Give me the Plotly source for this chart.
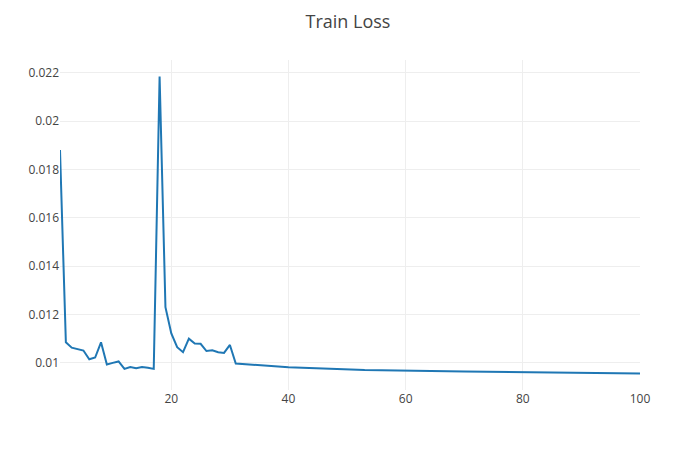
import plotly.graph_objects as go

epochs = list(range(1, 32)) + [40, 53, 70, 85, 100]
loss = [
    0.0188, 0.01085, 0.01063, 0.01057, 0.01051, 0.01015, 0.01022, 0.01085, 0.00993, 0.01000,
    0.01006, 0.00975, 0.00983, 0.00978, 0.00983, 0.00980, 0.00975, 0.02184, 0.01230, 0.01122,
    0.01065, 0.01044, 0.01100, 0.01080, 0.01079, 0.01049, 0.01052, 0.01044, 0.01041, 0.01074,
    0.00997, 0.00982, 0.00970, 0.00964, 0.00960, 0.00956,
]

fig = go.Figure(
    go.Scatter(x=epochs, y=loss, mode="lines",
               line=dict(color="#1f77b4", width=2))
)
fig.update_layout(
    template="none",
    width=700, height=450,
    title=dict(text="Train Loss", x=(348 - 8) / 700, xanchor="center",
               y=1 - 14 / 450, yanchor="middle", yref="container",
               font=dict(size=18, color="#444")),
    font=dict(family="Open Sans", size=12, color="#444"),
    margin=dict(l=52, r=68, t=52, b=68),
    paper_bgcolor="white", plot_bgcolor="white",
    showlegend=False,
    xaxis=dict(showgrid=True, gridcolor="#eee", zeroline=False, showline=False,
               ticks="", dtick=20, tick0=0),
    yaxis=dict(showgrid=True, gridcolor="#eee", zeroline=False, showline=False,
               ticks="", dtick=0.002, tick0=0),
)
fig.write_html("out.html")
